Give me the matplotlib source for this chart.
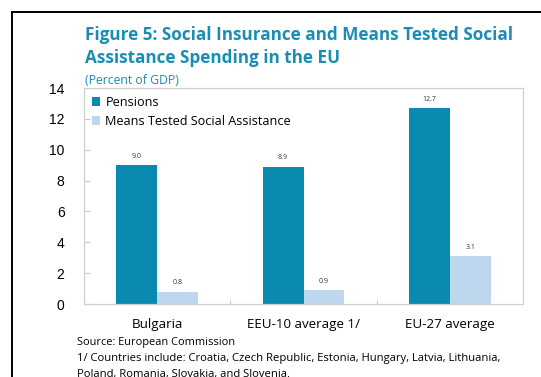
import numpy as np
import matplotlib.pyplot as plt
from matplotlib.lines import Line2D

categories = ['Bulgaria', 'EEU-10 average 1/', 'EU-27 average']
pensions = [9.0, 8.9, 12.7]
means_tested = [0.8, 0.9, 3.1]
yticks = [0, 2, 4, 6, 8, 10, 12, 14]

teal = '#0a8ab0'
light = '#bdd7ee'
title_col = '#1a8db5'

W, H = 541, 377
fig = plt.figure(figsize=(W / 100, H / 100), dpi=100)

# axes box in pixels: left 84, right 523, top 88, bottom 304
ax = fig.add_axes([84 / W, 1 - 304 / H, (523 - 84) / W, (304 - 88) / H])

x = np.arange(len(categories))
bw = 0.28
b1 = ax.bar(x - bw / 2, pensions, bw, color=teal, label='Pensions')
b2 = ax.bar(x + bw / 2, means_tested, bw, color=light, label='Means Tested Social Assistance')

for bars, vals in [(b1, pensions), (b2, means_tested)]:
    for r, v in zip(bars, vals):
        ax.text(r.get_x() + r.get_width() / 2, v + 0.35, '%.1f' % v,
                ha='center', va='bottom', fontsize=5, color='#333333',
                family='Open Sans')

ax.set_xlim(-0.5, 2.5)
ax.set_ylim(0, 14)
ax.set_yticks(yticks)
ax.set_yticklabels([str(t) for t in yticks], fontsize=10, family='Liberation Sans')
ax.tick_params(axis='y', length=4, color='#c8c8c8', direction='in', pad=14)

# category labels below, separator ticks between groups
ax.set_xticks([0.5, 1.5])
ax.set_xticklabels([])
ax.tick_params(axis='x', length=3, color='#c8c8c8', direction='in')
for i, c in enumerate(categories):
    ax.text(i, -1.35, c, ha='center', va='center', fontsize=9.6, family='Open Sans',
            transform=ax.transData)

for s in ax.spines.values():
    s.set_color('#d0d0d0')
    s.set_linewidth(0.9)

leg = ax.legend(loc='upper left', frameon=False, handlelength=0.7,
                handleheight=0.7, handletextpad=0.4, borderaxespad=0.2,
                labelspacing=0.5, prop={'family': 'Open Sans', 'size': 9.1})

fig.text(85 / W, 1 - 35 / H, 'Figure 5: Social Insurance and Means Tested Social',
         fontsize=12.3, fontweight='bold', color=title_col, family='Open Sans',
         va='center')
fig.text(85 / W, 1 - 58 / H, 'Assistance Spending in the EU',
         fontsize=12.3, fontweight='bold', color=title_col, family='Open Sans',
         va='center')
fig.text(85 / W, 1 - 81 / H, '(Percent of GDP)', fontsize=8.8, color=title_col,
         family='Open Sans', va='center')

fig.text(77 / W, 1 - 343 / H, 'Source: European Commission', fontsize=7.9,
         family='Open Sans', va='center')
fig.text(77 / W, 1 - 359 / H,
         '1/ Countries include: Croatia, Czech Republic, Estonia, Hungary, Latvia, Lithuania,',
         fontsize=8.1, family='Open Sans', va='center')
fig.text(77 / W, 1 - 375 / H, 'Poland, Romania, Slovakia, and Slovenia.',
         fontsize=8.1, family='Open Sans', va='center')

# outer frame line (top and left)
fig.add_artist(Line2D([12 / W, 12 / W], [0, 1 - 12 / H], color='black', lw=1.4,
                      transform=fig.transFigure))
fig.add_artist(Line2D([12 / W, 1], [1 - 12 / H, 1 - 12 / H], color='black', lw=1.4,
                      transform=fig.transFigure))

fig.savefig('out.png', dpi=100)
